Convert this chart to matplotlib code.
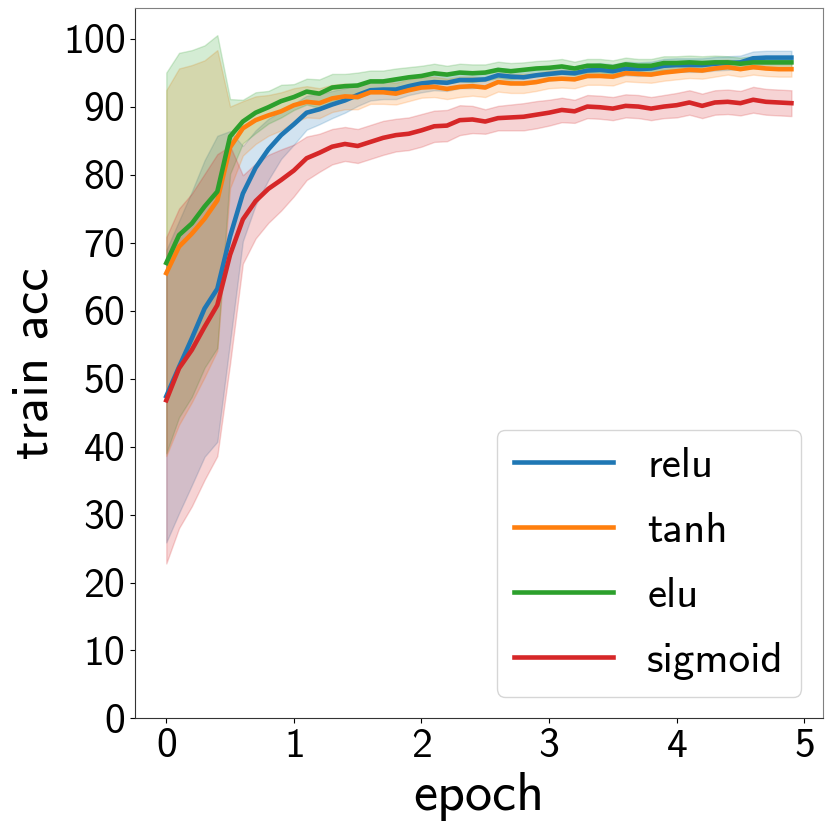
import matplotlib
matplotlib.use("Agg")
import matplotlib.pyplot as plt
import numpy as np

plt.rcParams["font.family"] = ["cmss10", "DejaVu Sans"]
plt.rcParams["axes.formatter.use_mathtext"] = True

# 50 evaluation points, every 0.1 epoch
epoch = np.arange(50) / 10

labels = ["relu", "tanh", "elu", "sigmoid"]
colors = ["#1f77b4", "#ff7f0e", "#2ca02c", "#d62728"]

relu_mean = [47.4, 51.7, 55.9, 60.3, 63.2, 70.9, 77.2, 81.0, 83.7, 85.8,
             87.4, 89.1, 89.6, 90.3, 90.9, 91.7, 92.4, 92.5, 92.5, 93.0,
             93.4, 93.6, 93.5, 93.9, 93.9, 94.0, 94.6, 94.4, 94.3, 94.6,
             94.8, 95.0, 94.9, 95.3, 95.4, 95.2, 95.6, 95.5, 95.6, 96.0,
             96.1, 96.1, 96.1, 96.3, 96.4, 96.5, 97.1, 97.2, 97.2, 97.2]
relu_std = [21.5, 21.5, 21.6, 21.8, 22.5, 15.5, 7.0, 5.5, 4.5, 3.5,
            3.0, 2.5, 2.2, 2.0, 1.8, 1.6, 1.5, 1.4, 1.4, 1.3,
            1.3, 1.2, 1.2, 1.2, 1.2, 1.1, 1.1, 1.1, 1.1, 1.1,
            1.0, 1.0, 1.0, 1.0, 1.0, 1.0, 1.0, 1.0, 1.0, 1.0,
            1.0, 1.0, 1.0, 1.0, 1.0, 1.0, 1.0, 1.0, 1.0, 1.0]

tanh_mean = [65.5, 69.4, 71.3, 73.5, 76.2, 84.0, 86.8, 88.0, 88.7, 89.3,
             90.2, 90.7, 90.5, 91.2, 91.5, 91.4, 92.1, 92.1, 91.9, 92.4,
             92.8, 92.9, 92.6, 92.9, 93.0, 92.8, 93.6, 93.4, 93.4, 93.6,
             94.0, 94.1, 94.0, 94.5, 94.5, 94.4, 94.9, 94.8, 94.7, 95.0,
             95.2, 95.4, 95.3, 95.6, 95.8, 95.5, 95.8, 95.6, 95.5, 95.5]
tanh_std = [26.9, 26.2, 24.8, 23.3, 22.1, 6.0, 4.0, 3.5, 3.0, 2.8,
            2.5, 2.3, 2.2, 2.0, 1.9, 1.8, 1.7, 1.7, 1.6, 1.6,
            1.5, 1.5, 1.5, 1.5, 1.4, 1.4, 1.4, 1.4, 1.4, 1.3,
            1.3, 1.3, 1.3, 1.3, 1.3, 1.3, 1.2, 1.2, 1.2, 1.2,
            1.2, 1.2, 1.2, 1.2, 1.1, 1.1, 1.1, 1.1, 1.1, 1.1]

elu_mean = [67.0, 71.1, 72.8, 75.3, 77.5, 85.6, 87.8, 89.1, 89.9, 90.8,
            91.4, 92.2, 91.9, 92.8, 93.0, 93.1, 93.7, 93.7, 94.0, 94.3,
            94.5, 94.9, 94.7, 95.0, 94.9, 95.0, 95.4, 95.2, 95.4, 95.6,
            95.7, 95.9, 95.6, 96.0, 96.0, 95.8, 96.2, 96.0, 96.0, 96.4,
            96.4, 96.5, 96.4, 96.5, 96.5, 96.3, 96.5, 96.5, 96.5, 96.5]
elu_std = [28.0, 26.8, 25.5, 23.7, 23.0, 5.5, 3.2, 3.0, 2.4, 2.4,
           1.9, 1.9, 2.1, 2.0, 1.8, 1.9, 1.6, 1.6, 1.6, 1.5,
           1.5, 1.4, 1.3, 1.3, 1.3, 1.2, 1.2, 1.2, 1.1, 1.1,
           1.1, 1.1, 1.0, 1.0, 1.0, 1.0, 1.0, 1.0, 1.0, 1.0,
           1.0, 1.0, 1.0, 1.0, 0.9, 0.9, 0.9, 0.9, 0.9, 0.9]

sigmoid_mean = [46.8, 51.5, 54.2, 57.6, 60.8, 68.2, 73.4, 76.1, 77.9, 79.2,
                80.6, 82.4, 83.2, 84.1, 84.5, 84.2, 84.8, 85.4, 85.8, 86.0,
                86.5, 87.1, 87.2, 88.0, 88.1, 87.8, 88.3, 88.4, 88.5, 88.8,
                89.1, 89.5, 89.3, 90.0, 89.9, 89.7, 90.1, 90.0, 89.7, 90.0,
                90.2, 90.6, 90.1, 90.6, 90.7, 90.5, 91.0, 90.7, 90.6, 90.5]
sigmoid_std = [24.0, 23.5, 23.0, 22.5, 22.2, 16.0, 6.5, 5.5, 5.0, 4.5,
               3.8, 3.2, 2.8, 2.6, 2.5, 2.5, 2.5, 2.5, 2.4, 2.4,
               2.4, 2.3, 2.3, 2.2, 2.0, 1.8, 1.8, 1.9, 2.0, 2.0,
               1.9, 1.8, 1.7, 1.7, 1.7, 1.7, 1.7, 1.7, 1.7, 1.7,
               1.8, 1.8, 1.8, 1.8, 1.8, 1.8, 1.9, 1.9, 1.9, 1.9]

means = [relu_mean, tanh_mean, elu_mean, sigmoid_mean]
stds = [relu_std, tanh_std, elu_std, sigmoid_std]

fig = plt.figure(figsize=(8.31, 8.31), dpi=100)
ax = fig.add_axes([0.1625, 0.1354, 0.8275, 0.855])

for name, c, m, s in zip(labels, colors, means, stds):
    m = np.array(m)
    s = np.array(s)
    ax.fill_between(epoch, m - s, m + s, color=c, alpha=0.2)
    ax.plot(epoch, m, color=c, lw=3.3, label=name)

ax.set_ylim(0, 104.5)
ax.set_yticks(np.arange(0, 101, 10))
ax.set_xticks(np.arange(0, 6, 1))
ax.tick_params(labelsize=30)
ax.set_xlabel("epoch", fontsize=39, labelpad=5)
ax.set_ylabel("train acc", fontsize=38)

for side in ["top", "right"]:
    ax.spines[side].set_color("#808080")
for side in ["left", "bottom"]:
    ax.spines[side].set_color("#333333")

ax.legend(loc="lower right", fontsize=31, handlelength=2.3, labelspacing=0.62)

fig.savefig("out.png", dpi=100)
